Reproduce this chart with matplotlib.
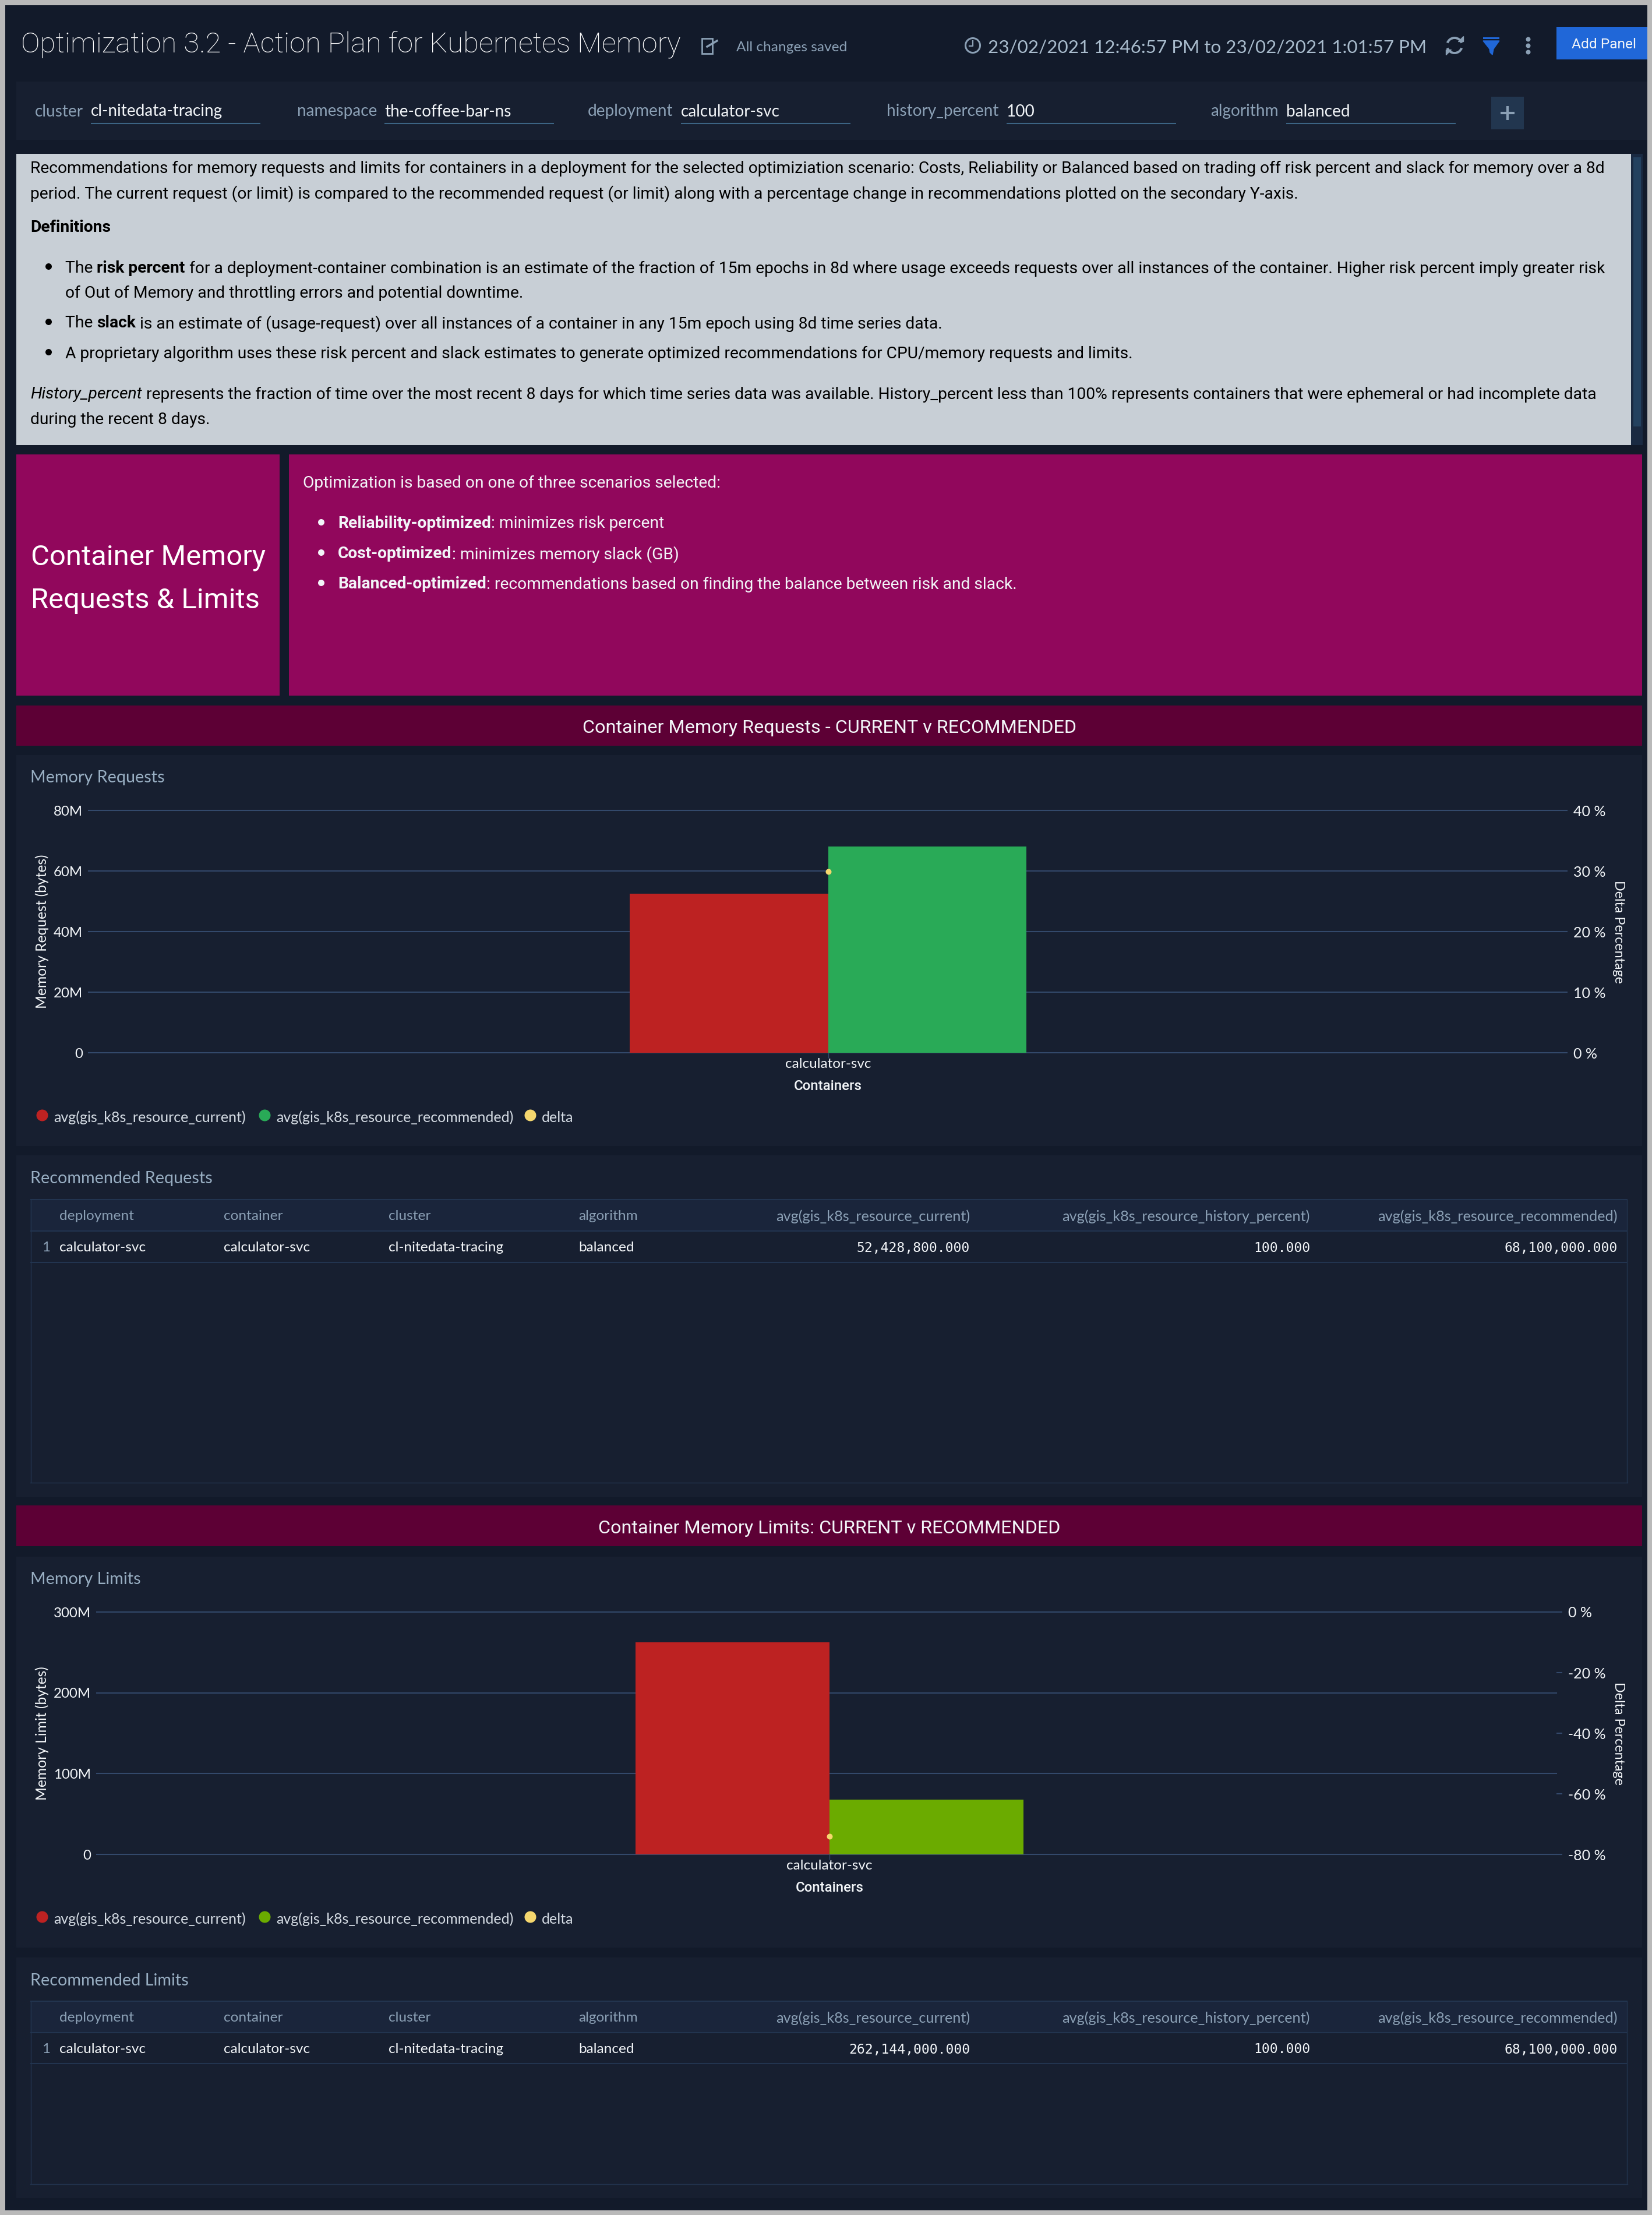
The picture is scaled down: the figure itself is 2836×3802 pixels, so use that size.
import matplotlib
matplotlib.use("Agg")
import matplotlib.pyplot as plt
from matplotlib.patches import Rectangle, Arc

# chart values
containers = ['calculator-svc']
requests_current = [52428800]
requests_recommended = [68100000]
requests_delta = [29.9]
limits_current = [262144000]
limits_recommended = [68100000]
limits_delta = [-74.0]

requests_ticks = [0, 20e6, 40e6, 60e6, 80e6]
requests_ticklabels = ['0', '20M', '40M', '60M', '80M']
requests_delta_ticks = [0, 10, 20, 30, 40]
limits_ticks = [0, 100e6, 200e6, 300e6]
limits_ticklabels = ['0', '100M', '200M', '300M']
limits_delta_ticks = [-80, -60, -40, -20, 0]

legend_names = ['avg(gis_k8s_resource_current)', 'avg(gis_k8s_resource_recommended)', 'delta']

table_headers = ['deployment', 'container', 'cluster', 'algorithm', 'avg(gis_k8s_resource_current)',
                 'avg(gis_k8s_resource_history_percent)', 'avg(gis_k8s_resource_recommended)']
requests_row = ['calculator-svc', 'calculator-svc', 'cl-nitedata-tracing', 'balanced',
                '52,428,800.000', '100.000', '68,100,000.000']
limits_row = ['calculator-svc', 'calculator-svc', 'cl-nitedata-tracing', 'balanced',
              '262,144,000.000', '100.000', '68,100,000.000']

filter_names = ['cluster', 'namespace', 'deployment', 'history_percent', 'algorithm']
filter_values = ['cl-nitedata-tracing', 'the-coffee-bar-ns', 'calculator-svc', '100', 'balanced']

W, H = 2836, 3802
DPI = 100
BG = '#121a2a'
PANEL = '#171f30'
GRID = '#33496b'
MUTED = '#8ba0b5'
HEAD = '#98aec2'
WHITE = '#f2f5f8'
RED = '#bd2222'
PINK = '#91075c'
BANNER = '#5d0035'
BLUE = '#2067d8'
BORDER = '#22344f'

plt.rcParams['font.family'] = ['Lato', 'DejaVu Sans']

fig = plt.figure(figsize=(W / DPI, H / DPI), dpi=DPI, facecolor='#b9b9b9')
page = fig.add_axes([0, 0, 1, 1])
page.set_xlim(0, W)
page.set_ylim(H, 0)
page.axis('off')


def pts(px):
    return px * 72 / DPI


def box(x0, y0, x1, y1, color, **kw):
    page.add_patch(Rectangle((x0, y0), x1 - x0, y1 - y0, facecolor=color, edgecolor='none', **kw))


def label(x, y, s, size=30, color=WHITE, ha='left', **kw):
    return page.text(x, y, s, fontsize=pts(size), color=color, ha=ha, va='center_baseline', **kw)


def rich(x, y, parts, size=28.3, color='#000000'):
    # text runs with mixed bold/italic on one line
    r = fig.canvas.get_renderer()
    for s, style in parts:
        t = label(x, y, s, size=size, color=color, family='Roboto',
                  fontweight='bold' if style == 'b' else 'normal',
                  style='italic' if style == 'i' else 'normal')
        x += t.get_window_extent(r).width


def dot(x, y, color, size=11):
    page.plot([x], [y], 'o', ms=pts(size), color=color, mec='none')


def chart(left, right, center, top, bottom, cur, rec, delta, ticks, ticklabels, dticks,
          ymax, dmin, dmax, ylabel, bar_w, rec_color):
    ax = fig.add_axes([left / W, 1 - bottom / H, (right - left) / W, (bottom - top) / H])
    ax.set_facecolor('none')
    span = right - left
    ax.set_xlim(-(center - left) / span, (right - center) / span)
    ax.set_ylim(0, ymax)
    ax.bar([-bar_w / 2], cur, bar_w, color=RED, zorder=3)
    ax.bar([bar_w / 2], rec, bar_w, color=rec_color, zorder=3)
    ax.set_yticks(ticks, ticklabels)
    ax.grid(axis='y', color=GRID, lw=1.5, zorder=1)
    for gl in ax.get_ygridlines():
        gl.set_clip_on(False)
    ax.set_axisbelow(True)
    ax.tick_params(axis='y', length=0, pad=pts(10), labelsize=pts(24), labelcolor=WHITE)
    ax.set_xticks([0], containers)
    ax.tick_params(axis='x', length=pts(9), width=1, color=GRID, pad=0, labelsize=pts(24.2),
                   labelcolor=WHITE)
    for s in ax.spines.values():
        s.set_visible(False)
    page.text(center, bottom + 55, 'Containers', fontsize=pts(24), color=WHITE, ha='center',
              va='center_baseline', family='Roboto', fontweight='medium')
    page.text(72, (top + bottom) / 2, ylabel, fontsize=pts(24.6), color=WHITE, rotation=90,
              ha='center', va='center')
    page.text(2778, (top + bottom) / 2, 'Delta Percentage', fontsize=pts(23.2), color=WHITE,
              rotation=270, ha='center', va='center')

    ax2 = ax.twinx()
    ax2.set_ylim(dmin, dmax)
    ax2.set_yticks(dticks, ['%d %%' % d for d in dticks])
    ax2.tick_params(axis='y', length=pts(10), width=1.5, color=GRID, pad=pts(10), labelsize=pts(25),
                    labelcolor=WHITE)
    for s in ax2.spines.values():
        s.set_visible(False)
    ax2.plot([0], delta, 'o', ms=pts(10), color='#f5d76e', mec='none', zorder=5, clip_on=False)

    # legend
    ly = bottom + 109
    colors = [RED, rec_color, '#f5d76e']
    for x, name, c in zip([72, 454, 910], legend_names, colors):
        dot(x, ly - 2, c, size=20)
        label(x + 20, ly, name, size=25, color='#d5dce4')


def table(top, head_bot, row_bot, bottom, row):
    box(52, top, 2794, head_bot, '#1a253b')
    for y in (top, head_bot, row_bot):
        page.plot([52, 2794], [y, y], color=BORDER, lw=1.5, solid_capstyle='butt')
    for x in (53, 2793):
        page.plot([x, x], [top, bottom], color=BORDER, lw=1)
    page.plot([52, 2794], [bottom, bottom], color=BORDER, lw=1)
    head_y = (top + head_bot) / 2
    row_y = (head_bot + row_bot) / 2
    label(72, row_y, '1', size=24, color=MUTED)
    for x, h, v in zip([102, 384, 667, 993], table_headers[:4], row[:4]):
        label(x, head_y, h, size=24.4, color=MUTED)
        label(x, row_y, v, size=24.4, color=WHITE)
    for x, h, v in zip([1665, 2249, 2777], table_headers[4:], row[4:]):
        label(x, head_y, h, size=25.2, color=MUTED, ha='right')
        page.text(x, row_y, v, fontsize=pts(23), color=WHITE, ha='right', va='center_baseline',
                  family='DejaVu Sans Mono')


# page frame and panels
box(9, 9, 2828, 3794, BG)
box(28, 140, 2828, 240, PANEL)

# header
label(36, 71, 'Optimization 3.2 - Action Plan for Kubernetes Memory', size=49, color='#ffffff',
      family='Roboto', fontweight='light')
label(1264, 80, 'All changes saved', size=24.5, color=MUTED)
page.add_patch(Rectangle((1205, 66), 18, 26, fill=False, edgecolor=MUTED, lw=2))
page.plot([1214, 1231], [80, 70], color=MUTED, lw=2.5)
page.add_patch(plt.Circle((1670, 78), 12.5, fill=False, edgecolor=MUTED, lw=2.2))
page.plot([1670, 1670, 1664], [70, 79, 79], color=MUTED, lw=1.6)
label(1696, 79, '23/02/2021 12:46:57 PM to 23/02/2021 1:01:57 PM', size=31.4, color='#a9bccd')
page.add_patch(Arc((2497, 78), 26, 26, theta1=200, theta2=340, edgecolor=MUTED, lw=2.8))
page.add_patch(Arc((2497, 78), 26, 26, theta1=20, theta2=160, edgecolor=MUTED, lw=2.8))
page.fill([2503, 2512, 2512], [71, 71, 62], color=MUTED)
page.fill([2491, 2482, 2482], [85, 85, 94], color=MUTED)
box(2546, 64, 2574, 67, BLUE)
page.fill([2546, 2574, 2564, 2562, 2558, 2557], [70, 70, 84, 94, 90, 84], color=BLUE)
for y in (67, 78, 89):
    dot(2623, y, MUTED, size=8)
box(2672, 46, 2828, 102, BLUE)
label(2753, 74, 'Add Panel', size=24.5, ha='center', family='Roboto')

# filter bar
name_right = [143, 647, 1155, 1715, 2195]
line_left = [156, 660, 1169, 1728, 2208]
for nr, ll, n, v in zip(name_right, line_left, filter_names, filter_values):
    label(nr, 189, n, size=28, color=MUTED, ha='right')
    label(ll, 189, v, size=28)
    page.plot([ll, ll + 291], [212.5, 212.5], color='#3c6484', lw=1.5, solid_capstyle='butt')
box(2560, 166, 2616, 222, '#22364f')
page.plot([2576, 2600], [194, 194], color=MUTED, lw=3, solid_capstyle='butt')
page.plot([2588, 2588], [182, 206], color=MUTED, lw=3, solid_capstyle='butt')

# text panel
box(28, 264, 2800, 764, '#c8cfd6')
box(2800, 264, 2820, 764, '#1a2a42')
box(2804, 270, 2817, 732, '#23415f')
rich(52, 286, [('Recommendations for memory requests and limits for containers in a deployment for the selected optimiziation scenario: Costs, Reliability or Balanced based on trading off risk percent and slack for memory over a 8d', '')])
rich(52, 329, [('period. The current request (or limit) is compared to the recommended request (or limit) along with a percentage change in recommendations plotted on the secondary Y-axis.', '')])
rich(52, 388, [('Definitions', 'b')])
dot(83, 457, '#000000')
rich(112, 458, [('The ', ''), ('risk percent', 'b'), (' for a deployment-container combination is an estimate of the fraction of 15m epochs in 8d where usage exceeds requests over all instances of the container. Higher risk percent imply greater risk', '')])
rich(112, 500, [('of Out of Memory and throttling errors and potential downtime.', '')])
dot(83, 552, '#000000')
rich(112, 552, [('The ', ''), ('slack', 'b'), (' is an estimate of (usage-request) over all instances of a container in any 15m epoch using 8d time series data.', '')])
dot(83, 604, '#000000')
rich(112, 604, [('A proprietary algorithm uses these risk percent and slack estimates to generate optimized recommendations for CPU/memory requests and limits.', '')])
rich(52, 674, [('History_percent', 'i'), (' represents the fraction of time over the most recent 8 days for which time series data was available. History_percent less than 100% represents containers that were ephemeral or had incomplete data', '')])
rich(52, 717, [('during the recent 8 days.', '')])

# scenario panels
box(28, 780, 480, 1194, PINK)
box(496, 780, 2819, 1194, PINK)
label(53, 952, 'Container Memory', size=49, color='#ffffff', family='Roboto')
label(53, 1026, 'Requests & Limits', size=49, color='#ffffff', family='Roboto')
rich(520, 826, [('Optimization is based on one of three scenarios selected:', '')], color=WHITE)
for y, b, rest in [(896, 'Reliability-optimized', ': minimizes risk percent'),
                   (948, 'Cost-optimized', ': minimizes memory slack (GB)'),
                   (1000, 'Balanced-optimized', ': recommendations based on finding the balance between risk and slack.')]:
    dot(551, y, WHITE)
    rich(580, y, [(b, 'b'), (rest, '')], color=WHITE)

# requests section
box(28, 1211, 2819, 1280, BANNER)
label(1424, 1246, 'Container Memory Requests - CURRENT v RECOMMENDED', size=32.4, ha='center', family='Roboto')
box(28, 1296, 2819, 1967, PANEL)
label(52, 1332, 'Memory Requests', size=28.7, color=HEAD)
chart(152, 2681, 1421.6, 1391, 1807, requests_current, requests_recommended, requests_delta,
      requests_ticks, requests_ticklabels, requests_delta_ticks, 80e6, 0, 40,
      'Memory Request (bytes)', 0.1346, '#29aa57')
box(28, 1983, 2819, 2570, PANEL)
label(52, 2020, 'Recommended Requests', size=28.7, color=HEAD)
table(2059, 2113, 2167, 2545, requests_row)

# limits section
box(28, 2584, 2819, 2654, BANNER)
label(1424, 2621, 'Container Memory Limits: CURRENT v RECOMMENDED', size=32.4, ha='center', family='Roboto')
box(28, 2672, 2819, 3343, PANEL)
label(52, 2708, 'Memory Limits', size=28.7, color=HEAD)
chart(166, 2672, 1424, 2767, 3183, limits_current, limits_recommended, limits_delta,
      limits_ticks, limits_ticklabels, limits_delta_ticks, 300e6, -80, 0,
      'Memory Limit (bytes)', 0.1327, '#6bab00')
box(28, 3360, 2819, 3773, PANEL)
label(52, 3397, 'Recommended Limits', size=28.7, color=HEAD)
table(3435, 3489, 3542, 3749, limits_row)

fig.savefig('out.png', dpi=DPI, facecolor=fig.get_facecolor())
